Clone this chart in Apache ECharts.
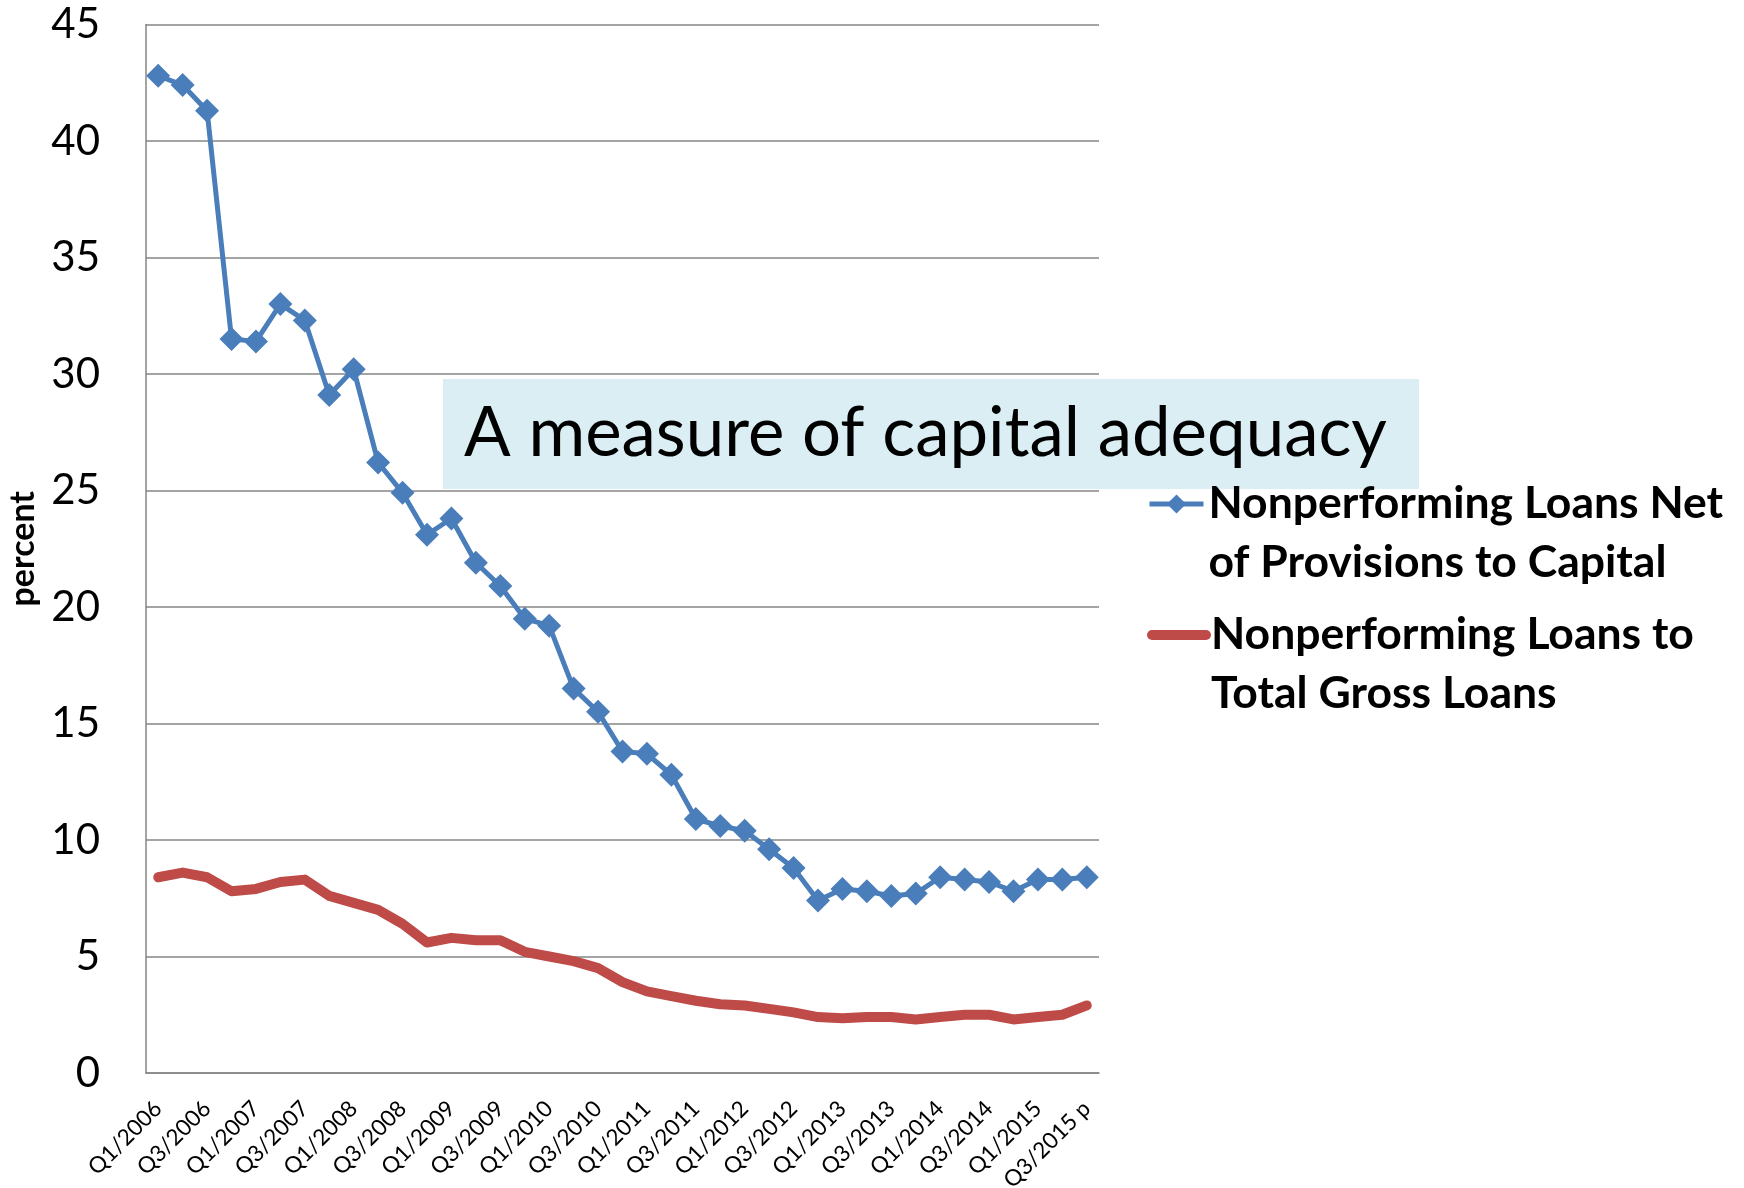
<!DOCTYPE html>
<html>
<head>
<meta charset="utf-8">
<script src="https://cdn.jsdelivr.net/npm/echarts@6/dist/echarts.min.js"></script>
<style>
  html, body { margin: 0; padding: 0; background: #ffffff; }
  #chart { width: 1744px; height: 1188px; }
</style>
</head>
<body>
<div id="chart"></div>
<script>
// Quarterly periods, Q1/2006 through Q3/2015 (preliminary)
const quarters = [
  'Q1/2006','Q2/2006','Q3/2006','Q4/2006',
  'Q1/2007','Q2/2007','Q3/2007','Q4/2007',
  'Q1/2008','Q2/2008','Q3/2008','Q4/2008',
  'Q1/2009','Q2/2009','Q3/2009','Q4/2009',
  'Q1/2010','Q2/2010','Q3/2010','Q4/2010',
  'Q1/2011','Q2/2011','Q3/2011','Q4/2011',
  'Q1/2012','Q2/2012','Q3/2012','Q4/2012',
  'Q1/2013','Q2/2013','Q3/2013','Q4/2013',
  'Q1/2014','Q2/2014','Q3/2014','Q4/2014',
  'Q1/2015','Q2/2015','Q3/2015 p'
];

// Nonperforming loans net of provisions to capital (percent)
const nplNetToCapital = [
  42.8, 42.4, 41.3, 31.5,
  31.4, 33.0, 32.3, 29.1,
  30.2, 26.2, 24.9, 23.1,
  23.8, 21.9, 20.9, 19.5,
  19.2, 16.5, 15.5, 13.8,
  13.7, 12.8, 10.9, 10.6,
  10.4, 9.6, 8.8, 7.4,
  7.9, 7.8, 7.6, 7.7,
  8.4, 8.3, 8.2, 7.8,
  8.3, 8.3, 8.4
];

// Nonperforming loans to total gross loans (percent)
const nplToGrossLoans = [
  8.4, 8.6, 8.4, 7.8,
  7.9, 8.2, 8.3, 7.6,
  7.3, 7.0, 6.4, 5.6,
  5.8, 5.7, 5.7, 5.2,
  5.0, 4.8, 4.5, 3.9,
  3.5, 3.3, 3.1, 2.95,
  2.9, 2.75, 2.6, 2.4,
  2.35, 2.4, 2.4, 2.3,
  2.4, 2.5, 2.5, 2.3,
  2.4, 2.5, 2.9
];

const yTicks = { min: 0, max: 45, step: 5 };

const seriesNames = [
  'Nonperforming Loans Net of Provisions to Capital',
  'Nonperforming Loans to Total Gross Loans'
];
// Legend text broken over two lines; the leading blank line keeps the
// icon level with the first line of text.
const legendLines = {
  [seriesNames[0]]: '\nNonperforming Loans Net\nof Provisions to Capital',
  [seriesNames[1]]: '\nNonperforming Loans to\nTotal Gross Loans'
};

const calloutText = 'A measure of capital adequacy';

const FONT = 'Lato, "Open Sans", sans-serif';
const GRID_GRAY = '#868686';
const BLUE = '#4A7EBB';
const RED = '#BE4B48';

const chart = echarts.init(document.getElementById('chart'), null, { renderer: 'canvas' });

function legendFor(item, top) {
  return {
    data: [item],
    orient: 'vertical',
    left: 1147,
    top: top,
    padding: 0,
    itemWidth: 54,
    itemHeight: 24,
    selectedMode: false,
    formatter: n => legendLines[n],
    textStyle: {
      fontFamily: FONT,
      fontWeight: 'bold',
      fontSize: 44.5,
      lineHeight: 59,
      color: '#000'
    }
  };
}

chart.setOption({
  animation: false,
  backgroundColor: '#ffffff',
  grid: {
    left: 146, right: 645, top: 24.5, bottom: 115,
    containLabel: false,
    outerBoundsMode: 'none'
  },
  legend: [
    legendFor({
      name: seriesNames[0],
      lineStyle: { width: 5, color: BLUE },
      itemStyle: { color: BLUE }
    }, 415.5),
    legendFor({
      name: seriesNames[1],
      lineStyle: { width: 10, color: RED, cap: 'round' },
      itemStyle: { color: RED, opacity: 0 }
    }, 546.5)
  ],
  xAxis: {
    type: 'category',
    data: quarters,
    boundaryGap: true,
    axisLine: { show: true, lineStyle: { color: GRID_GRAY, width: 1.5 } },
    axisTick: { show: false },
    axisLabel: {
      interval: 1,
      rotate: 45,
      margin: 32,
      fontFamily: FONT,
      fontSize: 22.5,
      color: '#000'
    },
    splitLine: { show: false }
  },
  yAxis: {
    type: 'value',
    min: yTicks.min,
    max: yTicks.max,
    interval: yTicks.step,
    name: 'percent',
    nameLocation: 'middle',
    nameRotate: 90,
    nameGap: 103,
    nameTextStyle: { fontFamily: FONT, fontWeight: 'bold', fontSize: 34, color: '#000' },
    axisLine: { show: true, lineStyle: { color: GRID_GRAY, width: 1.5 } },
    axisTick: { show: false },
    axisLabel: { fontFamily: FONT, fontSize: 42, color: '#000', margin: 46 },
    splitLine: { show: true, lineStyle: { color: GRID_GRAY, width: 1.5 } }
  },
  series: [
    {
      name: seriesNames[0],
      type: 'line',
      data: nplNetToCapital,
      symbol: 'diamond',
      symbolSize: 24,
      showSymbol: true,
      showAllSymbol: true,
      itemStyle: { color: BLUE },
      lineStyle: { color: BLUE, width: 5 },
      z: 3
    },
    {
      name: seriesNames[1],
      type: 'line',
      data: nplToGrossLoans,
      symbol: 'none',
      itemStyle: { color: RED },
      lineStyle: { color: RED, width: 10, cap: 'round', join: 'round' },
      z: 2
    }
  ],
  graphic: [
    {
      type: 'group',
      left: 443,
      top: 379,
      z: 100,
      children: [
        {
          type: 'rect',
          shape: { x: 0, y: 0, width: 976, height: 110 },
          style: { fill: '#DBEEF3' }
        },
        {
          type: 'text',
          x: 21,
          y: 55,
          style: {
            text: calloutText,
            fontFamily: FONT,
            fontSize: 69,
            fill: '#000',
            verticalAlign: 'middle'
          }
        }
      ]
    }
  ]
});
</script>
</body>
</html>
